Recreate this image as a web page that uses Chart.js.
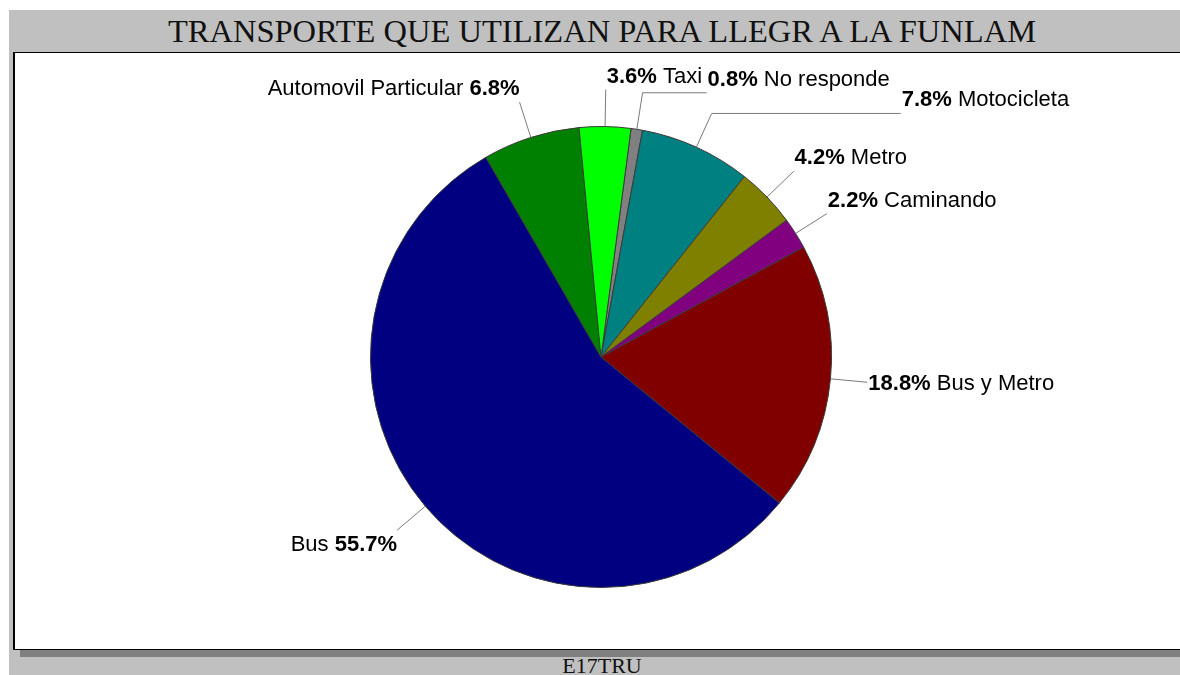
<!DOCTYPE html>
<html>
<head>
<meta charset="utf-8">
<script src="https://cdn.jsdelivr.net/npm/chart.js@4.4.1/dist/chart.umd.min.js"></script>
<style>
  html, body { margin: 0; padding: 0; background: #fff; }
  body { width: 1180px; height: 675px; position: relative; overflow: hidden; }
  #marco { position: absolute; left: 9px; top: 10px; width: 1186px; height: 680px; background: #c0c0c0; }
  #titulo { position: absolute; left: 9px; top: 11px; width: 1186px; height: 40px; text-align: center;
            font-family: "Liberation Serif", "Times New Roman", serif; font-size: 32.5px; line-height: 40px; color: #111; }
  #caja { position: absolute; left: 13px; top: 52px; width: 1180px; height: 596px; background: #fff;
          border: 1px solid #000; border-left: 2px solid #000; box-shadow: 7px 7px 0 #808080; }
  #pie { position: absolute; left: 9px; top: 654px; width: 1186px; text-align: center;
         font-family: "Liberation Serif", "Times New Roman", serif; font-size: 22px; line-height: 24px; color: #111; }
  #myChart { position: absolute; left: 0; top: 0; }
</style>
</head>
<body>
<div id="marco"></div>
<div id="titulo">TRANSPORTE QUE UTILIZAN PARA LLEGR A LA FUNLAM</div>
<div id="caja"></div>
<div id="pie">E17TRU</div>
<canvas id="myChart" width="1180" height="675"></canvas>
<script>
// datos (porcentaje de estudiantes)
const categorias = ['No responde', 'Motocicleta', 'Metro', 'Caminando', 'Bus y Metro', 'Bus', 'Automovil Particular', 'Taxi'];
const porcentajes = [0.8, 7.8, 4.2, 2.2, 18.8, 55.7, 6.8, 3.6];
const colores = ['#808080', '#008080', '#808000', '#800080', '#800000', '#000080', '#008000', '#00ff00'];
// tramo horizontal extra de la linea guia (px)
const codoExtra = [64, 189, 0, 0, 0, 0, 0, 0];

const fuente = '"Liberation Sans", Arial, sans-serif';
const tamFuente = 22;

// dibuja las etiquetas con linea guia, como en el original
const etiquetasPlugin = {
    id: 'etiquetas',
    afterDatasetsDraw(chart) {
        const ctx = chart.ctx;
        const meta = chart.getDatasetMeta(0);
        meta.data.forEach(function(arc, i) {
            const p = arc.getProps(['x', 'y', 'startAngle', 'endAngle', 'outerRadius'], true);
            const mid = (p.startAngle + p.endAngle) / 2;
            const c = Math.cos(mid), s = Math.sin(mid);
            const x0 = p.x + c * p.outerRadius, y0 = p.y + s * p.outerRadius;
            let x1 = x0 + c * 37, y1 = y0 + s * 37;
            const derecha = c >= 0;

            ctx.save();
            ctx.strokeStyle = '#7a7a7a';
            ctx.lineWidth = 1;
            ctx.beginPath();
            ctx.moveTo(x0, y0);
            ctx.lineTo(x1, y1);
            if (codoExtra[i]) {
                x1 += derecha ? codoExtra[i] : -codoExtra[i];
                ctx.lineTo(x1, y1);
            }
            ctx.stroke();

            let base;
            if (s < -0.3) base = y1 - 7;
            else if (s <= 0.3) base = y1 + 8;
            else base = y1 + 21;

            const pct = porcentajes[i].toFixed(1) + '%';
            const nombre = categorias[i];
            ctx.fillStyle = '#000';
            ctx.textBaseline = 'alphabetic';
            ctx.textAlign = 'left';
            if (derecha) {
                let x = x1 + 1;
                ctx.font = 'bold ' + tamFuente + 'px ' + fuente;
                ctx.fillText(pct, x, base);
                x += ctx.measureText(pct).width;
                ctx.font = tamFuente + 'px ' + fuente;
                ctx.fillText(' ' + nombre, x, base);
            } else {
                ctx.font = 'bold ' + tamFuente + 'px ' + fuente;
                const wp = ctx.measureText(pct).width;
                ctx.font = tamFuente + 'px ' + fuente;
                const wn = ctx.measureText(nombre + ' ').width;
                let x = x1 - wp - wn;
                ctx.fillText(nombre + ' ', x, base);
                ctx.font = 'bold ' + tamFuente + 'px ' + fuente;
                ctx.fillText(pct, x + wn, base);
            }
            ctx.restore();
        });
    }
};

const ctx = document.getElementById('myChart').getContext('2d');
const myChart = new Chart(ctx, {
    type: 'pie',
    data: {
        labels: categorias,
        datasets: [{
            label: 'Transporte',
            data: porcentajes,
            backgroundColor: colores,
            borderColor: '#3a3a3a',
            borderWidth: 1
        }]
    },
    options: {
        responsive: false,
        animation: false,
        rotation: 7.5,
        layout: {
            padding: { left: 370, right: 348, top: 126, bottom: 87 }
        },
        plugins: {
            legend: { display: false },
            tooltip: { enabled: false }
        }
    },
    plugins: [etiquetasPlugin]
});
</script>
</body>
</html>
